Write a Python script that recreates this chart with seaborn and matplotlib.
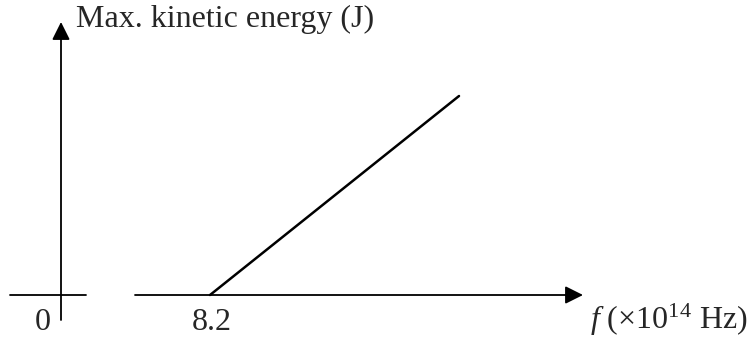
import matplotlib
matplotlib.use("Agg")
import matplotlib.pyplot as plt
import seaborn as sns

# -------- DATA --------
# frequency in units of 1e14 Hz, kinetic energy in arbitrary units (schematic)
freq = [8.2, 14.0]
ke = [0.0, 1.0]
origin_label = "0"
threshold_label = "8.2"
y_title = "Max. kinetic energy (J)"
x_title = r"$f$ (×10$^{14}$ Hz)"

# -------- STYLE --------
sns.set_theme(style="white")
plt.rcParams["font.family"] = ["Liberation Serif", "DejaVu Serif"]
plt.rcParams["mathtext.fontset"] = "custom"
plt.rcParams["mathtext.rm"] = "Liberation Serif"
plt.rcParams["mathtext.it"] = "Liberation Serif:italic"

W, H = 753, 339
fig = plt.figure(figsize=(W / 100, H / 100), dpi=100)
ax = fig.add_axes([0, 0, 1, 1])
ax.axis("off")

# data scale (broken axis, schematic)
ax.set_xlim(3.308, 20.848)
ax.set_ylim(-0.2211, 1.4824)

sns.lineplot(x=freq, y=ke, color="black", linewidth=1.8, ax=ax)


def P(x, y):
    return (x / W, 1 - y / H)


arrow = dict(arrowstyle="-|>,head_length=0.4,head_width=0.2", color="black",
             lw=1.3, mutation_scale=27, shrinkA=0, shrinkB=0)

# vertical axis
ax.annotate("", xy=P(61, 22), xytext=P(61, 320), xycoords="figure fraction",
            textcoords="figure fraction", arrowprops=arrow)
# short segment at origin
ax.plot([P(10, 295)[0], P(86, 295)[0]], [P(10, 295)[1], P(86, 295)[1]],
        transform=fig.transFigure, color="black", lw=1.3)
# horizontal axis
ax.annotate("", xy=P(583, 295), xytext=P(135, 295), xycoords="figure fraction",
            textcoords="figure fraction", arrowprops=arrow)

fs = 23
fig.text(*P(43, 322), origin_label, ha="center", va="center", fontsize=fs)
fig.text(*P(212, 322), threshold_label, ha="center", va="center", fontsize=fs)
fig.text(*P(76, 19), y_title, ha="left", va="center", fontsize=fs)
fig.text(*P(748, 320), x_title, ha="right", va="center", fontsize=fs)

fig.savefig("out.png", dpi=100, facecolor="white")
